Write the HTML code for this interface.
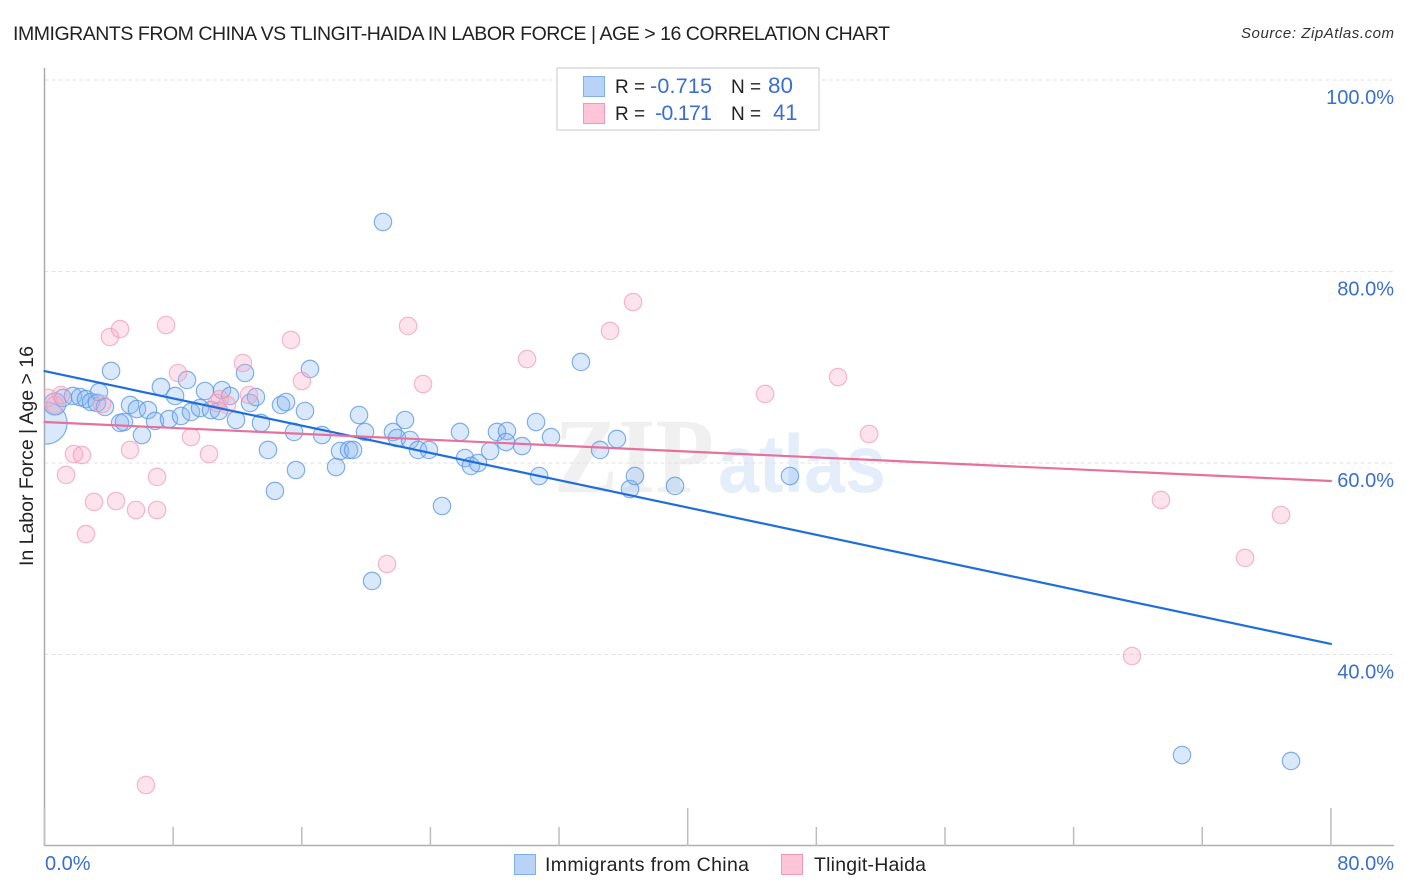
<!DOCTYPE html>
<html>
<head>
<meta charset="utf-8">
<title>Immigrants from China vs Tlingit-Haida in Labor Force | Age &gt; 16 Correlation Chart</title>
<style>
html,body{margin:0;padding:0;background:#fff;}
svg{display:block;font-family:"Liberation Sans",sans-serif;}
</style>
</head>
<body>
<svg id="chart" width="1406" height="892" viewBox="0 0 1406 892" xmlns="http://www.w3.org/2000/svg">
  <defs><clipPath id="plot-clip"><rect x="44.5" y="60" width="1350" height="786"/></clipPath></defs>
  <text x="13" y="40" font-size="19.5" fill="#222" textLength="877" lengthAdjust="spacing">IMMIGRANTS FROM CHINA VS TLINGIT-HAIDA IN LABOR FORCE | AGE &gt; 16 CORRELATION CHART</text>
  <text x="1394" y="38" font-size="15" font-style="italic" fill="#333" text-anchor="end" textLength="153" lengthAdjust="spacing">Source: ZipAtlas.com</text>
  <g>
    <text x="554" y="492" font-family="'Liberation Serif',serif" font-weight="bold" font-size="107" fill="#000" fill-opacity="0.06" textLength="160" lengthAdjust="spacingAndGlyphs">ZIP</text>
    <text x="718" y="492" font-size="82" font-weight="bold" fill="#2f7bdc" fill-opacity="0.13" textLength="168" lengthAdjust="spacingAndGlyphs">atlas</text>
  </g>
  <g id="grid"></g>
  <g id="axes"></g>
  <g id="points" clip-path="url(#plot-clip)"></g>
  <g id="trends"></g>
  <text transform="translate(33,566) rotate(-90)" font-size="19.5" fill="#222" textLength="220" lengthAdjust="spacing">In Labor Force | Age &gt; 16</text>

  <g>
    <rect x="557" y="68" width="262" height="62" fill="#fff" stroke="#dcdcdc" stroke-width="1.5"/>
    <rect x="583.5" y="76.5" width="21" height="20" fill="#b9d3f6" stroke="#7fb0ec"/>
    <rect x="583.5" y="103.5" width="21" height="20" fill="#fcc6d8" stroke="#f09ab6"/>
    <text x="615" y="93" font-size="19" fill="#222">R =</text>
    <text x="650" y="93" font-size="21.5" fill="#3a6fd0" textLength="62" lengthAdjust="spacing">-0.715</text>
    <text x="731" y="93" font-size="19" fill="#222">N =</text>
    <text x="768" y="93" font-size="22.5" fill="#3a6fd0">80</text>
    <text x="615" y="120" font-size="19" fill="#222">R =</text>
    <text x="655" y="120" font-size="21.5" fill="#3a6fd0" textLength="57" lengthAdjust="spacing">-0.171</text>
    <text x="731" y="120" font-size="19" fill="#222">N =</text>
    <text x="773" y="120" font-size="22" fill="#3a6fd0">41</text>
  </g>

  <g>
    <rect x="514.5" y="854.5" width="21" height="20" fill="#b9d3f6" stroke="#7fb0ec"/>
    <text x="545" y="871" font-size="19.5" fill="#222" textLength="204" lengthAdjust="spacing">Immigrants from China</text>
    <rect x="781.5" y="854.5" width="21" height="20" fill="#fcc6d8" stroke="#f09ab6"/>
    <text x="814" y="871" font-size="19.5" fill="#222" textLength="112" lengthAdjust="spacing">Tlingit-Haida</text>
  </g>
</svg>
<script>
const yTicks = [100, 80, 60, 40];
const yTickLabels = ["100.0%", "80.0%", "60.0%", "40.0%"];
const xTicks = [0, 8, 16, 24, 32, 40, 48, 56, 64, 72, 80];
const xMajorTicks = [0, 40, 80];
const xEndLabels = ["0.0%", "80.0%"];

const chinaX = [0.1,0.65,1.15,1.77,2.21,2.58,2.89,3.26,3.39,3.76,4.14,4.70,4.94,5.32,5.75,6.06,6.44,6.87,7.24,7.74,8.12,8.49,8.86,9.11,9.67,9.98,10.35,10.85,11.04,11.54,11.91,12.47,12.78,13.15,13.46,13.90,14.33,14.71,15.02,15.52,15.64,16.20,16.51,17.26,18.13,18.38,18.94,19.19,19.56,19.93,20.37,21.05,21.67,21.92,22.42,22.73,23.23,23.91,24.72,25.84,26.15,26.52,26.96,27.71,28.14,28.76,28.70,29.70,30.57,30.76,31.50,33.36,34.55,35.60,36.41,36.72,39.21,46.36,70.74,77.52];
const chinaY = [64.17,66.16,66.79,67.0,66.89,66.68,66.37,66.27,67.41,65.85,69.61,64.18,64.28,66.06,65.64,62.92,65.53,64.39,67.94,64.59,67.0,64.91,68.67,65.33,65.74,67.52,65.53,65.43,67.62,67.0,64.49,69.40,66.27,66.89,64.18,61.36,57.08,66.06,66.37,63.24,59.27,65.43,69.82,62.92,59.58,61.25,61.36,61.36,65.01,63.24,47.68,85.17,63.24,62.61,64.49,62.40,61.36,61.36,55.51,63.24,60.52,59.69,60.0,61.25,63.24,63.34,62.19,61.77,64.28,58.64,62.71,70.55,61.36,62.51,57.28,58.64,57.60,58.64,29.50,28.88];
const chinaLargeValue = [0];
const chinaMediumValue = [1];

const tlingitX = [0.22,0.65,1.03,1.34,1.83,2.33,2.58,3.08,3.58,4.07,4.45,4.70,5.32,5.69,6.31,7.0,7.0,7.56,8.30,9.11,10.23,10.73,10.91,11.35,12.34,12.72,15.33,16.01,21.30,22.61,23.54,30.01,35.17,36.60,44.81,49.35,51.28,67.63,69.43,74.66,76.90];
const tlingitY = [66.79,66.06,67.10,58.75,60.94,60.83,52.58,55.93,66.16,73.16,56.03,73.99,61.36,55.09,26.37,58.54,55.09,74.41,69.40,62.71,60.94,66.27,66.68,66.06,70.44,67.10,72.85,68.56,49.45,74.31,68.25,70.86,73.79,76.81,67.21,68.98,63.03,39.84,56.14,50.08,54.57];

const chinaTrendX = [0, 80];
const chinaTrendY = [69.6, 41.1];
const tlingitTrendX = [0, 80];
const tlingitTrendY = [64.28, 58.12];

const NS = "http://www.w3.org/2000/svg";
function xScale(v) { return 44.5 + v * 16.08; }
function yScale(v) { return 80 + (100 - v) * 9.575; }
function make(tag, attrs, parent) {
  const el = document.createElementNS(NS, tag);
  for (const k in attrs) el.setAttribute(k, attrs[k]);
  parent.appendChild(el);
  return el;
}

const grid = document.getElementById("grid");
yTicks.forEach(function (t, i) {
  const line = make("line", {x1: 44.5, x2: 1394, y1: yScale(t), y2: yScale(t), stroke: "#e2e2e2", "stroke-width": 1, "stroke-dasharray": "4 3"}, grid);
  
  
  const label = make("text", {x: 1394, y: yScale(t) + 24, "text-anchor": "end", "font-size": 20, fill: "#3a6fd0"}, grid);
  
  
  label.textContent = yTickLabels[i];
});

const axes = document.getElementById("axes");
const yAxis = make("line", {x1: 44.5, x2: 44.5, y1: 68, y2: 846, stroke: "#aaa", "stroke-width": 1.5}, axes);


const xAxis = make("line", {x1: 44, x2: 1394, y1: 845.5, y2: 845.5, stroke: "#b0b0b0", "stroke-width": 1.5}, axes);


xTicks.forEach(function (t) {
  const top = xMajorTicks.indexOf(t) >= 0 ? 808 : 827;
  const tick = make("line", {x1: xScale(t), x2: xScale(t), y1: top, y2: 846, stroke: "#bdbdbd", "stroke-width": 1.5}, axes);
  
  
});
const x0Label = make("text", {x: 45, y: 870, "font-size": 20, fill: "#3a6fd0"}, axes);


x0Label.textContent = xEndLabels[0];
const x1Label = make("text", {x: 1394, y: 870, "font-size": 20, "text-anchor": "end", fill: "#3a6fd0"}, axes);


x1Label.textContent = xEndLabels[1];

const points = document.getElementById("points");
chinaX.forEach(function (x, i) {
  let r = 8.7;
  if (chinaLargeValue.indexOf(i) >= 0) r = 21;
  if (chinaMediumValue.indexOf(i) >= 0) r = 11;
  const c = make("circle", {cx: xScale(x), cy: yScale(chinaY[i]), r: r, fill: "#8ab8f0", "fill-opacity": 0.32, stroke: "#5a96e6", "stroke-opacity": 0.75, "stroke-width": 1.2}, points);
  
  
});
tlingitX.forEach(function (x, i) {
  const c = make("circle", {cx: xScale(x), cy: yScale(tlingitY[i]), r: 8.7, fill: "#f9a9c4", "fill-opacity": 0.32, stroke: "#f19ab6", "stroke-opacity": 0.7, "stroke-width": 1.2}, points);
  
  
});

const trends = document.getElementById("trends");
const chinaTrend = make("line", {x1: xScale(chinaTrendX[0]), y1: yScale(chinaTrendY[0]), x2: xScale(chinaTrendX[1]), y2: yScale(chinaTrendY[1]), stroke: "#1f6fdb", "stroke-width": 2.2, "stroke-linecap": "round"}, trends);


const tlingitTrend = make("line", {x1: xScale(tlingitTrendX[0]), y1: yScale(tlingitTrendY[0]), x2: xScale(tlingitTrendX[1]), y2: yScale(tlingitTrendY[1]), stroke: "#e8709c", "stroke-width": 2.2, "stroke-linecap": "round"}, trends);


</script>
</body>
</html>
